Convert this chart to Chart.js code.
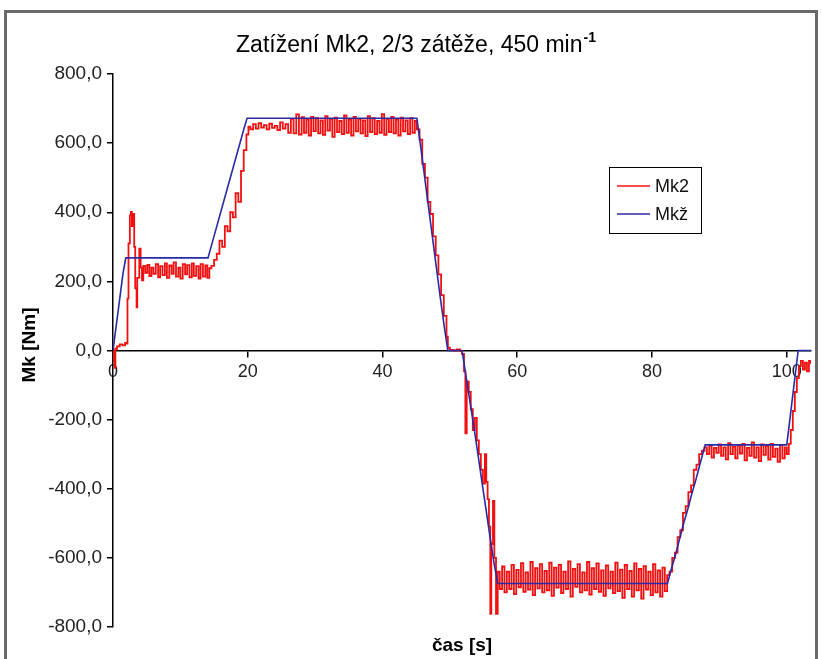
<!DOCTYPE html>
<html>
<head>
<meta charset="utf-8">
<script src="https://cdn.jsdelivr.net/npm/chart.js@4.4.1/dist/chart.umd.min.js"></script>
<style>
  html, body { margin: 0; padding: 0; background: #ffffff; }
  canvas { display: block; }
</style>
</head>
<body>
<canvas id="c" width="822" height="659"></canvas>
<script>
// ---- Data ----
const titleMain = "Zatížení Mk2, 2/3 zátěže, 450 min";
const titleSup = "-1";
const xTitle = "čas [s]";
const yTitle = "Mk [Nm]";
const seriesNames = ["Mk2", "Mkž"];

const xTicks = [0, 20, 40, 60, 80, 100];
const yTicks = [-800, -600, -400, -200, 0, 200, 400, 600, 800];

// Mk2 (measured torque, red)
const mk2Time = [
  0.0, 0.1, 0.25, 0.35, 0.6, 1.0, 1.4, 1.8, 2.1, 2.15, 2.3, 2.5, 2.65, 2.8, 3.0, 3.15, 3.3, 3.5, 3.6, 3.9,
  4.1, 4.3, 4.5, 4.8, 5.1, 5.4, 5.7, 6.0, 6.35, 6.7, 7.0, 7.35, 7.7, 8.0, 8.35, 8.7, 9.0, 9.35, 9.7, 10.0,
  10.35, 10.7, 11.0, 11.35, 11.7, 12.0, 12.35, 12.7, 13.0, 13.35, 13.7, 14.0, 14.3,
  14.6, 15.0, 15.4, 15.8, 16.2, 16.6, 17.0, 17.4, 17.8, 18.2, 18.6, 19.0, 19.4, 19.8, 20.1,
  20.4, 20.8, 21.2, 21.6, 22.0, 22.4, 22.8, 23.2, 23.6, 24.0, 24.4, 24.8, 25.2, 25.6, 26.0, 26.4, 26.8,
  27.2, 27.6, 28.0, 28.35, 28.7, 29.05, 29.4, 29.75, 30.1, 30.45, 30.8, 31.15, 31.5, 31.85, 32.2, 32.55,
  32.9, 33.25, 33.6, 33.95, 34.3, 34.65, 35.0, 35.35, 35.7, 36.05, 36.4, 36.75, 37.1, 37.45, 37.8, 38.15,
  38.5, 38.85, 39.2, 39.55, 39.9, 40.25, 40.6, 40.95, 41.3, 41.65, 42.0, 42.35, 42.7, 43.05, 43.4, 43.75,
  44.1, 44.45, 44.8, 45.1,
  45.5, 45.9, 46.3, 46.7, 47.1, 47.5, 47.9, 48.3, 48.7, 49.1, 49.5, 49.7, 50.0, 50.5, 51.0, 51.5, 51.8,
  52.1, 52.3, 52.5, 52.8, 53.1, 53.4, 53.7, 54.0, 54.3, 54.6, 54.9, 55.2, 55.4, 55.6, 55.8, 56.0, 56.15,
  56.4, 56.6, 56.85, 57.1, 57.4,
  57.75, 58.1, 58.45, 58.8, 59.15, 59.5, 59.85, 60.2, 60.55, 60.9, 61.25, 61.6, 61.95, 62.3, 62.65, 63.0,
  63.35, 63.7, 64.05, 64.4, 64.75, 65.1, 65.45, 65.8, 66.15, 66.5, 66.85, 67.2, 67.55, 67.9, 68.25, 68.6,
  68.95, 69.3, 69.65, 70.0, 70.35, 70.7, 71.05, 71.4, 71.75, 72.1, 72.45, 72.8, 73.15, 73.5, 73.85, 74.2,
  74.55, 74.9, 75.25, 75.6, 75.95, 76.3, 76.65, 77.0, 77.35, 77.7, 78.05, 78.4, 78.75, 79.1, 79.45, 79.8,
  80.15, 80.5, 80.85, 81.2, 81.55, 81.9, 82.25,
  82.6, 83.0, 83.4, 83.8, 84.2, 84.6, 85.0, 85.4, 85.8, 86.2, 86.6, 87.0, 87.4, 87.8,
  88.15, 88.5, 88.85, 89.2, 89.55, 89.9, 90.25, 90.6, 90.95, 91.3, 91.65, 92.0, 92.35, 92.7, 93.05, 93.4,
  93.75, 94.1, 94.45, 94.8, 95.15, 95.5, 95.85, 96.2, 96.55, 96.9, 97.25, 97.6, 97.95, 98.3, 98.65, 99.0,
  99.35, 99.7, 100.0,
  100.3, 100.6, 100.9, 101.2, 101.5, 101.8, 102.1, 102.4, 102.7, 103.0, 103.3, 103.6
];
const mk2Values = [
  0, -30, -50, 5, 12, 18, 15, 22, 20, 150, 310, 390, 401, 360, 395, 300, 180, 125, 210, 295,
  240, 203, 245, 225, 248, 215, 240, 222, 250, 212, 244, 218, 252, 210, 246, 222, 255, 214, 240, 208,
  250, 220, 247, 212, 252, 216, 244, 208, 250, 214, 246, 210, 238,
  245, 262, 280, 318, 300, 360, 345, 400, 385, 455, 430, 520, 580, 625, 648,
  640, 655, 642, 658, 645, 652, 640, 656, 644, 650, 638, 660, 642, 655, 630, 670, 628,
  683, 625, 675, 630, 668, 622, 676, 635, 672, 628, 666, 624, 678, 636, 670, 618,
  674, 632, 664, 626, 680, 630, 668, 622, 676, 634, 670, 628, 666, 620, 678, 632,
  672, 626, 664, 630, 684, 624, 670, 632, 676, 628, 668, 622, 674, 634, 666, 626,
  672, 630, 664, 640,
  610, 540, 500, 430, 395, 330, 275, 220, 160, 100, 40, 8, 2, 0, 3, -2, -10,
  -60, -240, -90, -120, -170, -230, -195, -260, -300, -345, -385, -300, -380, -430, -510, -762, -560,
  -435, -600, -762, -640, -690,
  -625, -700, -640, -690, -620, -705, -635, -685, -615, -698, -642, -692, -612, -708, -630, -688,
  -618, -700, -638, -694, -614, -710, -628, -686, -620, -702, -640, -690, -610, -712, -632, -684,
  -618, -700, -642, -694, -612, -706, -630, -690, -616, -698, -636, -710, -622, -688, -640, -702,
  -614, -696, -634, -716, -620, -690, -638, -712, -616, -694, -632, -718, -624, -692, -640, -708,
  -618, -700, -636, -712, -628, -696, -650,
  -640, -600, -585, -540, -520, -470, -450, -410, -390, -345, -330, -300, -290, -280,
  -300, -275, -310, -282, -296, -272, -305, -280, -315, -268, -300, -278, -312, -275, -298, -270,
  -318, -282, -305, -266, -310, -280, -320, -272, -302, -276, -316, -270, -308, -284, -322, -274,
  -312, -280, -300,
  -270, -230, -175, -120, -80, -45, -30, -55, -35, -60, -30, -40
];

// Mkž (reference torque, blue)
const mkzTime = [
  0.0, 0.3, 0.6, 0.9, 1.2, 1.5, 1.9, 14.1, 14.7, 15.3, 15.9, 16.5, 17.1, 17.7, 18.3, 18.9, 19.5, 19.9,
  45.1, 45.6, 46.2, 46.8, 47.4, 48.0, 48.6, 49.2, 49.7, 51.8, 52.4, 53.0, 53.6, 54.2, 54.8, 55.4, 56.0,
  56.6, 57.1, 82.3, 82.9, 83.5, 84.1, 84.7, 85.3, 85.9, 86.5, 87.1, 87.9, 100.0, 100.4, 100.8, 101.2,
  101.7, 103.6
];
const mkzValues = [
  0, 45, 90, 135, 180, 225, 268, 268, 310, 352, 394, 436, 478, 520, 562, 604, 646, 672,
  672, 600, 510, 420, 330, 240, 150, 65, 0, 0, -75, -150, -225, -305, -385, -465, -545,
  -620, -674, -674, -630, -590, -545, -500, -460, -415, -375, -330, -273, -273, -210, -145, -80,
  0, 0
];

// ---- Helpers ----
const FONT = "'Liberation Sans', Arial, sans-serif";
const toXY = (xs, ys) => xs.map((x, i) => ({ x: x, y: ys[i] }));

const decor = {
  id: 'decor',
  beforeDraw(chart) {
    const ctx = chart.ctx;
    ctx.save();
    ctx.fillStyle = '#ffffff';
    ctx.fillRect(0, 0, chart.width, chart.height);
    ctx.restore();
  },
  afterDraw(chart) {
    const ctx = chart.ctx;
    const area = chart.chartArea;
    ctx.save();

    // Title with superscript
    ctx.fillStyle = '#000';
    ctx.textBaseline = 'alphabetic';
    ctx.font = "23px " + FONT;
    const wMain = ctx.measureText(titleMain).width;
    ctx.font = "bold 14px " + FONT;
    const wSup = ctx.measureText(titleSup).width;
    const tx = 416 - (wMain + wSup + 1) / 2;
    ctx.font = "23px " + FONT;
    ctx.textAlign = 'left';
    ctx.fillText(titleMain, tx, 52);
    ctx.font = "bold 14px " + FONT;
    ctx.fillText(titleSup, tx + wMain + 1, 42);

    // X axis title
    ctx.font = "bold 19px " + FONT;
    ctx.textAlign = 'center';
    ctx.textBaseline = 'middle';
    ctx.fillText(xTitle, (area.left + area.right) / 2, 646);

    // Y axis title
    ctx.save();
    ctx.translate(30, 345);
    ctx.rotate(-Math.PI / 2);
    ctx.fillText(yTitle, 0, 0);
    ctx.restore();

    // Legend
    const lx = 609, ly = 167, lw = 92, lh = 66;
    ctx.fillStyle = '#fff';
    ctx.fillRect(lx, ly, lw, lh);
    ctx.strokeStyle = '#000';
    ctx.lineWidth = 1;
    ctx.strokeRect(lx + 0.5, ly + 0.5, lw, lh);
    const colors = ['#ff1010', '#2a2aa6'];
    const rows = [186, 214];
    ctx.font = "18px " + FONT;
    ctx.textAlign = 'left';
    ctx.textBaseline = 'middle';
    for (let i = 0; i < 2; i++) {
      ctx.strokeStyle = colors[i];
      ctx.lineWidth = 1.5;
      ctx.beginPath();
      ctx.moveTo(617, rows[i]);
      ctx.lineTo(650, rows[i]);
      ctx.stroke();
      ctx.fillStyle = '#111';
      ctx.fillText(seriesNames[i], 655, rows[i] + 1);
    }

    // Outer frame
    ctx.strokeStyle = '#6a6a6a';
    ctx.lineWidth = 3;
    ctx.strokeRect(5.5, 11.5, 811, 700);
    ctx.restore();
  }
};

new Chart(document.getElementById('c'), {
  type: 'line',
  data: {
    datasets: [
      {
        label: seriesNames[1],
        data: toXY(mkzTime, mkzValues),
        borderColor: '#2a2aa6',
        borderWidth: 1.6,
        pointRadius: 0,
        fill: false,
        order: 0
      },
      {
        label: seriesNames[0],
        data: toXY(mk2Time, mk2Values),
        borderColor: '#f01010',
        borderWidth: 1.8,
        pointRadius: 0,
        stepped: true,
        fill: false,
        order: 1
      }
    ]
  },
  options: {
    responsive: false,
    animation: false,
    layout: { padding: { left: 0, top: 74, right: 11, bottom: 32 } },
    plugins: {
      legend: { display: false },
      title: { display: false },
      tooltip: { enabled: false }
    },
    scales: {
      x: {
        type: 'linear',
        min: 0,
        max: 103.6,
        position: { y: 0 },
        afterBuildTicks: (s) => { s.ticks = xTicks.map(v => ({ value: v })); },
        grid: { drawOnChartArea: false, drawTicks: true, tickLength: 6, color: '#000', lineWidth: 1.5 },
        border: { display: true, color: '#000', width: 1.5 },
        ticks: {
          font: { family: FONT, size: 18 },
          color: '#222',
          padding: 5,
          maxRotation: 0,
          autoSkip: false,
          callback: (v) => String(v)
        }
      },
      y: {
        type: 'linear',
        min: -800,
        max: 800,
        afterBuildTicks: (s) => { s.ticks = yTicks.map(v => ({ value: v })); },
        afterFit: (s) => { s.width = 113; },
        grid: { drawOnChartArea: false, drawTicks: true, tickLength: 6, color: '#000', lineWidth: 1.5 },
        border: { display: true, color: '#000', width: 1.5 },
        ticks: {
          font: { family: FONT, size: 19 },
          color: '#222',
          padding: 5,
          autoSkip: false,
          callback: (v) => Number(v).toFixed(1).replace('.', ',')
        }
      }
    }
  },
  plugins: [decor]
});
</script>
</body>
</html>
